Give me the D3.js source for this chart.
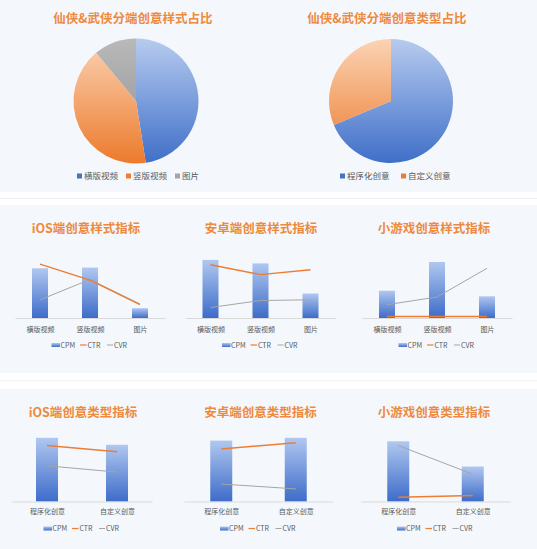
<!DOCTYPE html>
<html>
<head>
<meta charset="utf-8">
<script src="https://cdn.jsdelivr.net/npm/d3@7"></script>
<style>
  html, body { margin: 0; padding: 0; background: #f4f8fc; }
  svg { display: block; font-family: "Noto Sans CJK SC", "Noto Sans", sans-serif; }
</style>
</head>
<body>
<svg id="chart" width="537" height="549"></svg>
<script>
// ---------------- DATA ----------------
const pie1Title = "仙侠&武侠分端创意样式占比";
const pie1Labels = ["横版视频", "竖版视频", "图片"];
const pie1Values = [47.5, 41.5, 11];

const pie2Title = "仙侠&武侠分端创意类型占比";
const pie2Labels = ["程序化创意", "自定义创意"];
const pie2Values = [68.7, 31.3];

const seriesNames = ["CPM", "CTR", "CVR"];
const styleCategories = ["横版视频", "竖版视频", "图片"];
const typeCategories = ["程序化创意", "自定义创意"];

const panelTitles = ["iOS端创意样式指标", "安卓端创意样式指标", "小游戏创意样式指标",
                     "iOS端创意类型指标", "安卓端创意类型指标", "小游戏创意类型指标"];

// relative index values (no axis shown in the source)
const iosStyleCPM = [71, 72, 14];
const iosStyleCTR = [77, 54, 19];
const iosStyleCVR = [26, 55, 20];

const androidStyleCPM = [83, 78, 35];
const androidStyleCTR = [76, 62, 69];
const androidStyleCVR = [15, 25, 26];

const gameStyleCPM = [39, 80, 31];
const gameStyleCTR = [2.2, 2.2, 2.2];
const gameStyleCVR = [19, 30, 71];

const iosTypeCPM = [91, 81];
const iosTypeCTR = [80, 71];
const iosTypeCVR = [51, 42];

const androidTypeCPM = [87, 91];
const androidTypeCTR = [75, 84];
const androidTypeCVR = [25, 18];

const gameTypeCPM = [86, 50];
const gameTypeCTR = [6, 8.5];
const gameTypeCVR = [80, 39];

// ---------------- DRAW ----------------
const svg = d3.select("#chart");
const defs = svg.append("defs");

function vGrad(id, top, bottom, units, y1, y2) {
  const g = defs.append("linearGradient").attr("id", id)
    .attr("x1", 0).attr("x2", 0);
  if (units) {
    g.attr("gradientUnits", "userSpaceOnUse").attr("y1", y1).attr("y2", y2);
  } else {
    g.attr("y1", 0).attr("y2", 1);
  }
  g.append("stop").attr("offset", "0%").attr("stop-color", top);
  g.append("stop").attr("offset", "100%").attr("stop-color", bottom);
}
vGrad("barGrad", "#b0c7f0", "#3d6cc9");

const orange = "#ed7d31";
const gray = "#a5a5a5";
const titleColor = "#ee8a3d";
const textColor = "#595959";

// background bands / separators
svg.append("rect").attr("width", 537).attr("height", 549).attr("fill", "#f4f8fc");
const sepGrad = defs.append("linearGradient").attr("id", "sepGrad").attr("x1", 0).attr("x2", 1).attr("y1", 0).attr("y2", 0);
sepGrad.append("stop").attr("offset", "0%").attr("stop-color", "#4a78c6");
sepGrad.append("stop").attr("offset", "55%").attr("stop-color", "#6a9dd6");
sepGrad.append("stop").attr("offset", "100%").attr("stop-color", "#4a78c6");

const separators = [[192, 205], [373, 388.5]];
separators.forEach(([a, b]) => {
  svg.append("rect").attr("x", 0).attr("y", a).attr("width", 537).attr("height", b - a).attr("fill", "#ffffff");
  svg.append("line").attr("x1", 0).attr("x2", 537).attr("y1", (a + b) / 2).attr("y2", (a + b) / 2)
    .attr("stroke", "#f3eef3").attr("stroke-width", 1);
  [a, b].forEach(y => svg.append("line").attr("x1", 0).attr("x2", 537).attr("y1", y).attr("y2", y)
    .attr("stroke", "url(#sepGrad)").attr("stroke-width", 1.6));
});

// ---------------- PIES ----------------
function drawPie(cfg) {
  const { title, labels, values, cx, cy, r, titleX, legendX, colors } = cfg;
  svg.append("text").attr("x", titleX).attr("y", 23).attr("text-anchor", "middle")
    .attr("font-size", 12.5).attr("font-weight", "bold").attr("fill", titleColor).text(title);
  const pie = d3.pie().sort(null).value(d => d)(values);
  const arc = d3.arc().innerRadius(0).outerRadius(r);
  const g = svg.append("g").attr("transform", `translate(${cx},${cy})`);
  g.selectAll("path").data(pie).join("path")
    .attr("d", arc)
    .attr("fill", (d, i) => `url(#${cfg.id}_${i})`);
  colors.forEach((c, i) => vGrad(`${cfg.id}_${i}`, c[0], c[1], true, -r, r));
  // legend
  labels.forEach((lab, i) => {
    svg.append("rect").attr("x", legendX[i]).attr("y", 173.5).attr("width", 5).attr("height", 5)
      .attr("fill", colors[i][2]);
    svg.append("text").attr("x", legendX[i] + 7).attr("y", 179.2).attr("font-size", 8.5)
      .attr("fill", textColor).text(lab);
  });
}
const blueC = ["#b7cbef", "#3f6fc8", "#4472c4"];
const orangeC = ["#fbd3b4", "#ec7a2c", "#ed7d31"];
const grayC = ["#b9b9b9", "#8e8e8e", "#a5a5a5"];
drawPie({ id: "p1", title: pie1Title, labels: pie1Labels, values: pie1Values, cx: 136, cy: 101, r: 62.5,
  titleX: 133, legendX: [77, 126, 175], colors: [blueC, orangeC, grayC] });
drawPie({ id: "p2", title: pie2Title, labels: pie2Labels, values: pie2Values, cx: 391, cy: 101, r: 62,
  titleX: 387, legendX: [340, 401], colors: [blueC, orangeC] });

// ---------------- COMBO PANELS ----------------
function drawPanel(cfg) {
  const { title, cats, cpm, ctr, cvr, c, half, titleX, titleY, baseY, barW, labelPad, legendY } = cfg;
  const x = d3.scalePoint().domain(cats).range([c - half, c + half]).padding(0.5);
  const y = d3.scaleLinear().domain([0, 100]).range([baseY, baseY - 70]);
  const g = svg.append("g");

  g.append("text").attr("x", titleX).attr("y", titleY).attr("text-anchor", "middle")
    .attr("font-size", 12.5).attr("font-weight", "bold").attr("fill", titleColor).text(title);

  g.selectAll("rect.bar").data(cats.map((k, i) => ({ k, v: cpm[i] }))).join("rect")
    .attr("class", "bar")
    .attr("x", d => x(d.k) - barW / 2).attr("width", barW)
    .attr("y", d => y(d.v)).attr("height", d => baseY - y(d.v))
    .attr("fill", "url(#barGrad)");

  const axis = g.append("g").attr("transform", `translate(0,${baseY})`)
    .call(d3.axisBottom(x).tickSize(0).tickPadding(labelPad).tickSizeOuter(0));
  axis.select(".domain").attr("stroke", "#d9d9d9").attr("stroke-width", 1);
  axis.selectAll("text").attr("font-size", 7).attr("fill", textColor)
    .attr("font-family", '"Noto Sans CJK SC", sans-serif');

  const line = d3.line().x(d => x(d.k)).y(d => y(d.v));
  g.append("path").datum(cats.map((k, i) => ({ k, v: cvr[i] })))
    .attr("d", line).attr("fill", "none").attr("stroke", gray).attr("stroke-width", 1);
  g.append("path").datum(cats.map((k, i) => ({ k, v: ctr[i] })))
    .attr("d", line).attr("fill", "none").attr("stroke", orange).attr("stroke-width", 1.4);

  // legend
  const lg = g.append("g").attr("transform", `translate(${c},${legendY})`);
  lg.append("rect").attr("x", -38.5).attr("y", -2).attr("width", 8.5).attr("height", 4).attr("fill", "url(#barGrad)");
  lg.append("text").attr("x", -29.5).attr("y", 2.5).attr("font-size", 7).attr("fill", textColor).text(seriesNames[0]);
  lg.append("line").attr("x1", -10).attr("x2", -3.5).attr("y1", 0).attr("y2", 0).attr("stroke", orange).attr("stroke-width", 1.2);
  lg.append("text").attr("x", -2.5).attr("y", 2.5).attr("font-size", 7).attr("fill", textColor).text(seriesNames[1]);
  lg.append("line").attr("x1", 17).attr("x2", 23).attr("y1", 0).attr("y2", 0).attr("stroke", gray).attr("stroke-width", 1);
  lg.append("text").attr("x", 24).attr("y", 2.5).attr("font-size", 7).attr("fill", textColor).text(seriesNames[2]);
}

const midRow = { cats: styleCategories, titleY: 233, baseY: 318, barW: 16, labelPad: 9, legendY: 345, half: 75 };
drawPanel({ ...midRow, title: panelTitles[0], cpm: iosStyleCPM, ctr: iosStyleCTR, cvr: iosStyleCVR, c: 90, titleX: 86 });
drawPanel({ ...midRow, title: panelTitles[1], cpm: androidStyleCPM, ctr: androidStyleCTR, cvr: androidStyleCVR, c: 260.5, titleX: 261 });
drawPanel({ ...midRow, title: panelTitles[2], cpm: gameStyleCPM, ctr: gameStyleCTR, cvr: gameStyleCVR, c: 437, titleX: 434 });

const botRow = { cats: typeCategories, titleY: 417, baseY: 501.5, barW: 22, labelPad: 8, legendY: 528.5 };
drawPanel({ ...botRow, title: panelTitles[3], cpm: iosTypeCPM, ctr: iosTypeCTR, cvr: iosTypeCVR, c: 82, half: 70, titleX: 83 });
drawPanel({ ...botRow, title: panelTitles[4], cpm: androidTypeCPM, ctr: androidTypeCTR, cvr: androidTypeCVR, c: 258.5, half: 74.5, titleX: 260.5 });
drawPanel({ ...botRow, title: panelTitles[5], cpm: gameTypeCPM, ctr: gameTypeCTR, cvr: gameTypeCVR, c: 435.5, half: 74.5, titleX: 434 });
</script>
</body>
</html>
